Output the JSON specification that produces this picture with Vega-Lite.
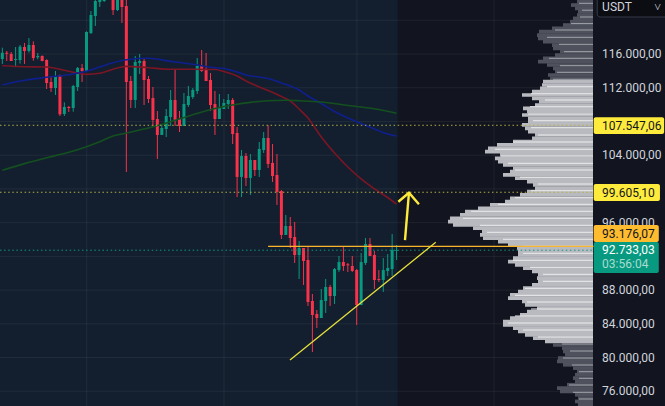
{
  "$schema": "https://vega.github.io/schema/vega-lite/v6.json",
  "width": 665,
  "height": 406,
  "padding": 0,
  "autosize": "none",
  "background": "#12151f",
  "config": {"view": {"stroke": null}, "font": "Roboto", "scale": {"continuousPadding": 0}},
  "datasets": {
    "regions": [
      {"t": -0.53, "t2": 89.25}
    ],
    "gridH": [
      {"t": -0.53, "t2": 133.3, "p": 76000}, {"t": -0.53, "t2": 133.3, "p": 80000}, {"t": -0.53, "t2": 133.3, "p": 84000},
      {"t": -0.53, "t2": 133.3, "p": 88000}, {"t": -0.53, "t2": 133.3, "p": 92000}, {"t": -0.53, "t2": 133.3, "p": 96000},
      {"t": -0.53, "t2": 133.3, "p": 100000}, {"t": -0.53, "t2": 133.3, "p": 104000}, {"t": -0.53, "t2": 133.3, "p": 108000},
      {"t": -0.53, "t2": 133.3, "p": 112000}, {"t": -0.53, "t2": 133.3, "p": 116000}, {"t": -0.53, "t2": 133.3, "p": 120000}
    ],
    "gridV": [{"t": 19.05}, {"t": 50.04}, {"t": 80.06}, {"t": 111}],
    "tickLabels": [
      {"t": 135.4, "p": 76000, "label": "76.000,00"}, {"t": 135.4, "p": 80000, "label": "80.000,00"},
      {"t": 135.4, "p": 84000, "label": "84.000,00"}, {"t": 135.4, "p": 88000, "label": "88.000,00"},
      {"t": 135.4, "p": 96000, "label": "96.000,00"}, {"t": 135.4, "p": 104000, "label": "104.000,00"},
      {"t": 135.4, "p": 112000, "label": "112.000,00"}, {"t": 135.4, "p": 116000, "label": "116.000,00"}
    ],
    "candles": [
      {"t":0,"o":115410,"h":116750,"l":114820,"c":116160,"dir":"up"},
      {"t":1,"o":116160,"h":116360,"l":115170,"c":116040,"dir":"down"},
      {"t":2,"o":116000,"h":116240,"l":115170,"c":115170,"dir":"down"},
      {"t":3,"o":115290,"h":116830,"l":114500,"c":115410,"dir":"up"},
      {"t":4,"o":115290,"h":117070,"l":114860,"c":116870,"dir":"up"},
      {"t":5,"o":116830,"h":117310,"l":114820,"c":116360,"dir":"down"},
      {"t":6,"o":116360,"h":117900,"l":116160,"c":117070,"dir":"up"},
      {"t":7,"o":117070,"h":117500,"l":115210,"c":115530,"dir":"down"},
      {"t":8,"o":115610,"h":116120,"l":115370,"c":115770,"dir":"up"},
      {"t":9,"o":115770,"h":115840,"l":115130,"c":115170,"dir":"down"},
      {"t":10,"o":115290,"h":115370,"l":111850,"c":112560,"dir":"down"},
      {"t":11,"o":112680,"h":113390,"l":111500,"c":111970,"dir":"down"},
      {"t":12,"o":111970,"h":113990,"l":111140,"c":113390,"dir":"up"},
      {"t":13,"o":113470,"h":113550,"l":108650,"c":108850,"dir":"down"},
      {"t":14,"o":108890,"h":110270,"l":108650,"c":109720,"dir":"up"},
      {"t":15,"o":109720,"h":109840,"l":109120,"c":109600,"dir":"down"},
      {"t":16,"o":109600,"h":112330,"l":109160,"c":112210,"dir":"up"},
      {"t":17,"o":112090,"h":114460,"l":111610,"c":114340,"dir":"up"},
      {"t":18,"o":114340,"h":114820,"l":112680,"c":113990,"dir":"down"},
      {"t":19,"o":113990,"h":118690,"l":113990,"c":118610,"dir":"up"},
      {"t":20,"o":118490,"h":121100,"l":118370,"c":120630,"dir":"up"},
      {"t":21,"o":120510,"h":122700,"l":119320,"c":122290,"dir":"up"},
      {"t":22,"o":122170,"h":123200,"l":121580,"c":122800,"dir":"up"},
      {"t":23,"o":122290,"h":123800,"l":122170,"c":123400,"dir":"up"},
      {"t":24,"o":125000,"h":125300,"l":123500,"c":124000,"dir":"down"},
      {"t":25,"o":124000,"h":124200,"l":120630,"c":121220,"dir":"down"},
      {"t":26,"o":121220,"h":123300,"l":121100,"c":123000,"dir":"up"},
      {"t":27,"o":123000,"h":123300,"l":119680,"c":121580,"dir":"down"},
      {"t":28,"o":121690,"h":122700,"l":102010,"c":112680,"dir":"down"},
      {"t":29,"o":112800,"h":113390,"l":109600,"c":110550,"dir":"down"},
      {"t":30,"o":110550,"h":115770,"l":109600,"c":115050,"dir":"up"},
      {"t":31,"o":114930,"h":116000,"l":113630,"c":115170,"dir":"up"},
      {"t":32,"o":115170,"h":115410,"l":109950,"c":112920,"dir":"down"},
      {"t":33,"o":113040,"h":113390,"l":110190,"c":110670,"dir":"down"},
      {"t":34,"o":110780,"h":112090,"l":107460,"c":108180,"dir":"down"},
      {"t":35,"o":108290,"h":109240,"l":103550,"c":106400,"dir":"down"},
      {"t":36,"o":106400,"h":107580,"l":106400,"c":107230,"dir":"up"},
      {"t":37,"o":107110,"h":109480,"l":106160,"c":108650,"dir":"up"},
      {"t":38,"o":108530,"h":111730,"l":107460,"c":110550,"dir":"up"},
      {"t":39,"o":110550,"h":114100,"l":107460,"c":108180,"dir":"down"},
      {"t":40,"o":108290,"h":109240,"l":106750,"c":107460,"dir":"down"},
      {"t":41,"o":107460,"h":111380,"l":107460,"c":110070,"dir":"up"},
      {"t":42,"o":109950,"h":112210,"l":109720,"c":111020,"dir":"up"},
      {"t":43,"o":110900,"h":111970,"l":110670,"c":111730,"dir":"up"},
      {"t":44,"o":111610,"h":115530,"l":111260,"c":114580,"dir":"up"},
      {"t":45,"o":114580,"h":116480,"l":113870,"c":113990,"dir":"down"},
      {"t":46,"o":114100,"h":116120,"l":112800,"c":112800,"dir":"down"},
      {"t":47,"o":112920,"h":113750,"l":109240,"c":109950,"dir":"down"},
      {"t":48,"o":110070,"h":111610,"l":106400,"c":108290,"dir":"down"},
      {"t":49,"o":108290,"h":111260,"l":108290,"c":109600,"dir":"up"},
      {"t":50,"o":109480,"h":110670,"l":109480,"c":110190,"dir":"up"},
      {"t":51,"o":110070,"h":111260,"l":109480,"c":110550,"dir":"up"},
      {"t":52,"o":110550,"h":110780,"l":105330,"c":106510,"dir":"down"},
      {"t":53,"o":106630,"h":107340,"l":99040,"c":101420,"dir":"down"},
      {"t":54,"o":101420,"h":104620,"l":99040,"c":103910,"dir":"up"},
      {"t":55,"o":103910,"h":104260,"l":100350,"c":101300,"dir":"down"},
      {"t":56,"o":101300,"h":104140,"l":99280,"c":103430,"dir":"up"},
      {"t":57,"o":103430,"h":103430,"l":101530,"c":102250,"dir":"down"},
      {"t":58,"o":102250,"h":105570,"l":101420,"c":104740,"dir":"up"},
      {"t":59,"o":104620,"h":106750,"l":104260,"c":106040,"dir":"up"},
      {"t":60,"o":106040,"h":107580,"l":102480,"c":102960,"dir":"down"},
      {"t":61,"o":103080,"h":105330,"l":100820,"c":101530,"dir":"down"},
      {"t":62,"o":101650,"h":104140,"l":98090,"c":99640,"dir":"down"},
      {"t":63,"o":99750,"h":99870,"l":94060,"c":94540,"dir":"down"},
      {"t":64,"o":94540,"h":96910,"l":94540,"c":95600,"dir":"up"},
      {"t":65,"o":95600,"h":96670,"l":92990,"c":94180,"dir":"down"},
      {"t":66,"o":94300,"h":96080,"l":91220,"c":92160,"dir":"down"},
      {"t":67,"o":92160,"h":93820,"l":89320,"c":92990,"dir":"up"},
      {"t":68,"o":92990,"h":92990,"l":88610,"c":91450,"dir":"down"},
      {"t":69,"o":91570,"h":93230,"l":86120,"c":86590,"dir":"down"},
      {"t":70,"o":86710,"h":87540,"l":80660,"c":85050,"dir":"down"},
      {"t":71,"o":85170,"h":85640,"l":83510,"c":84690,"dir":"down"},
      {"t":72,"o":84690,"h":88130,"l":84690,"c":86830,"dir":"up"},
      {"t":73,"o":86710,"h":89320,"l":85290,"c":88370,"dir":"up"},
      {"t":74,"o":88370,"h":88610,"l":86120,"c":87300,"dir":"down"},
      {"t":75,"o":87300,"h":90620,"l":86350,"c":90500,"dir":"up"},
      {"t":76,"o":90380,"h":92050,"l":90150,"c":91330,"dir":"up"},
      {"t":77,"o":91330,"h":93110,"l":90270,"c":90860,"dir":"down"},
      {"t":78,"o":91060,"h":91220,"l":90150,"c":90940,"dir":"down"},
      {"t":79,"o":90860,"h":92050,"l":90150,"c":90270,"dir":"down"},
      {"t":80,"o":90380,"h":90500,"l":83860,"c":86230,"dir":"down"},
      {"t":81,"o":86230,"h":92400,"l":86230,"c":91330,"dir":"up"},
      {"t":82,"o":91220,"h":94180,"l":90980,"c":93470,"dir":"up"},
      {"t":83,"o":93470,"h":94180,"l":92050,"c":92050,"dir":"down"},
      {"t":84,"o":92160,"h":92640,"l":88130,"c":89200,"dir":"down"},
      {"t":85,"o":89320,"h":90380,"l":88960,"c":89200,"dir":"down"},
      {"t":86,"o":89200,"h":91810,"l":87780,"c":90380,"dir":"up"},
      {"t":87,"o":90270,"h":92280,"l":89670,"c":90620,"dir":"up"},
      {"t":88,"o":90500,"h":94650,"l":89670,"c":92760,"dir":"up"},
      {"t":89,"o":92640,"h":93350,"l":91570,"c":92733,"dir":"up"}
    ],
    "averages": [
      {"ma":"short","t":0,"p":114614},{"ma":"short","t":5,"p":114495},{"ma":"short","t":10,"p":114460},{"ma":"short","t":15,"p":113950},
      {"ma":"short","t":19,"p":113590},{"ma":"short","t":22,"p":113710},{"ma":"short","t":25,"p":114190},{"ma":"short","t":28,"p":114540},
      {"ma":"short","t":33,"p":114380},{"ma":"short","t":38,"p":114190},{"ma":"short","t":43,"p":114190},{"ma":"short","t":48,"p":114160},
      {"ma":"short","t":50,"p":113930},{"ma":"short","t":53,"p":113390},{"ma":"short","t":55,"p":112800},{"ma":"short","t":58,"p":112090},
      {"ma":"short","t":60,"p":111670},{"ma":"short","t":63,"p":110960},{"ma":"short","t":65,"p":110430},{"ma":"short","t":67,"p":109480},
      {"ma":"short","t":69,"p":108410},{"ma":"short","t":72,"p":106160},{"ma":"short","t":75,"p":104260},{"ma":"short","t":78,"p":102600},
      {"ma":"short","t":81,"p":101180},{"ma":"short","t":84,"p":100000},{"ma":"short","t":87,"p":98980},{"ma":"short","t":89,"p":98210},
      {"ma":"mid","t":0,"p":112325},{"ma":"mid","t":5,"p":112880},{"ma":"mid","t":10,"p":113240},{"ma":"mid","t":15,"p":113550},
      {"ma":"mid","t":19,"p":113950},{"ma":"mid","t":22,"p":114460},{"ma":"mid","t":25,"p":114970},{"ma":"mid","t":28,"p":115320},
      {"ma":"mid","t":33,"p":115490},{"ma":"mid","t":38,"p":115130},{"ma":"mid","t":43,"p":114780},{"ma":"mid","t":48,"p":114380},
      {"ma":"mid","t":50,"p":114280},{"ma":"mid","t":53,"p":113870},{"ma":"mid","t":55,"p":113510},{"ma":"mid","t":58,"p":113270},
      {"ma":"mid","t":60,"p":113100},{"ma":"mid","t":63,"p":112560},{"ma":"mid","t":65,"p":112210},{"ma":"mid","t":67,"p":111730},
      {"ma":"mid","t":69,"p":111020},{"ma":"mid","t":72,"p":110130},{"ma":"mid","t":75,"p":109180},{"ma":"mid","t":78,"p":108410},
      {"ma":"mid","t":81,"p":107760},{"ma":"mid","t":84,"p":107110},{"ma":"mid","t":87,"p":106510},{"ma":"mid","t":89,"p":106280},
      {"ma":"long","t":0,"p":102210},{"ma":"long","t":5,"p":103000},{"ma":"long","t":10,"p":103700},{"ma":"long","t":15,"p":104340},
      {"ma":"long","t":19,"p":105010},{"ma":"long","t":22,"p":105600},{"ma":"long","t":25,"p":106280},{"ma":"long","t":28,"p":106630},
      {"ma":"long","t":33,"p":107230},{"ma":"long","t":38,"p":107970},{"ma":"long","t":43,"p":108800},{"ma":"long","t":48,"p":109540},
      {"ma":"long","t":52,"p":109950},{"ma":"long","t":56,"p":110270},{"ma":"long","t":60,"p":110460},{"ma":"long","t":64,"p":110510},
      {"ma":"long","t":67,"p":110460},{"ma":"long","t":71,"p":110340},{"ma":"long","t":74,"p":110190},{"ma":"long","t":78,"p":109890},
      {"ma":"long","t":81,"p":109720},{"ma":"long","t":85,"p":109420},{"ma":"long","t":89,"p":108970}
    ],
    "profile": [
      {"p":122200,"vol":16,"zone":"outer"},{"p":121805,"vol":22,"zone":"outer"},{"p":121410,"vol":18,"zone":"outer"},{"p":121015,"vol":15,"zone":"outer"},
      {"p":120620,"vol":16,"zone":"outer"},{"p":120225,"vol":20,"zone":"outer"},{"p":119830,"vol":23,"zone":"outer"},{"p":119435,"vol":30,"zone":"outer"},
      {"p":119040,"vol":41,"zone":"outer"},{"p":118645,"vol":54,"zone":"outer"},{"p":118250,"vol":56,"zone":"outer"},{"p":117855,"vol":55,"zone":"outer"},
      {"p":117460,"vol":50,"zone":"outer"},{"p":117065,"vol":41,"zone":"outer"},{"p":116670,"vol":40,"zone":"outer"},{"p":116275,"vol":33,"zone":"outer"},
      {"p":115880,"vol":38,"zone":"outer"},{"p":115485,"vol":50,"zone":"outer"},{"p":115090,"vol":55,"zone":"outer"},{"p":114695,"vol":46,"zone":"outer"},
      {"p":114300,"vol":40,"zone":"outer"},{"p":113905,"vol":38,"zone":"outer"},{"p":113510,"vol":45,"zone":"outer"},{"p":113115,"vol":43,"zone":"outer"},
      {"p":112720,"vol":50,"zone":"value"},{"p":112325,"vol":51,"zone":"value"},{"p":111930,"vol":53,"zone":"value"},{"p":111535,"vol":61,"zone":"value"},
      {"p":111140,"vol":71,"zone":"value"},{"p":110745,"vol":61,"zone":"value"},{"p":110350,"vol":54,"zone":"value"},{"p":109955,"vol":58,"zone":"value"},
      {"p":109560,"vol":70,"zone":"value"},{"p":109165,"vol":66,"zone":"value"},{"p":108770,"vol":71,"zone":"value"},{"p":108375,"vol":65,"zone":"value"},
      {"p":107980,"vol":65,"zone":"value"},{"p":107585,"vol":71,"zone":"value"},{"p":107190,"vol":68,"zone":"value"},{"p":106795,"vol":65,"zone":"value"},
      {"p":106400,"vol":58,"zone":"value"},{"p":106005,"vol":61,"zone":"value"},{"p":105610,"vol":80,"zone":"value"},{"p":105215,"vol":96,"zone":"value"},
      {"p":104820,"vol":105,"zone":"value"},{"p":104425,"vol":108,"zone":"value"},{"p":104030,"vol":93,"zone":"value"},{"p":103635,"vol":98,"zone":"value"},
      {"p":103240,"vol":95,"zone":"value"},{"p":102845,"vol":90,"zone":"value"},{"p":102450,"vol":80,"zone":"value"},{"p":102055,"vol":83,"zone":"value"},
      {"p":101660,"vol":90,"zone":"value"},{"p":101265,"vol":78,"zone":"value"},{"p":100870,"vol":66,"zone":"value"},{"p":100475,"vol":60,"zone":"value"},
      {"p":100080,"vol":58,"zone":"value"},{"p":99685,"vol":66,"zone":"value"},{"p":99290,"vol":73,"zone":"value"},{"p":98895,"vol":83,"zone":"value"},
      {"p":98500,"vol":88,"zone":"value"},{"p":98105,"vol":103,"zone":"value"},{"p":97710,"vol":115,"zone":"value"},{"p":97315,"vol":128,"zone":"value"},
      {"p":96920,"vol":133,"zone":"value"},{"p":96525,"vol":143,"zone":"value"},{"p":96130,"vol":145,"zone":"value"},{"p":95735,"vol":140,"zone":"value"},
      {"p":95340,"vol":120,"zone":"value"},{"p":94945,"vol":111,"zone":"value"},{"p":94550,"vol":113,"zone":"value"},{"p":94155,"vol":110,"zone":"value"},
      {"p":93760,"vol":95,"zone":"value"},{"p":93365,"vol":85,"zone":"value"},{"p":92970,"vol":76,"zone":"value"},{"p":92575,"vol":75,"zone":"value"},
      {"p":92180,"vol":75,"zone":"value"},{"p":91785,"vol":80,"zone":"value"},{"p":91390,"vol":85,"zone":"value"},{"p":90995,"vol":78,"zone":"value"},
      {"p":90600,"vol":70,"zone":"value"},{"p":90205,"vol":61,"zone":"value"},{"p":89810,"vol":55,"zone":"value"},{"p":89415,"vol":56,"zone":"value"},
      {"p":89020,"vol":55,"zone":"value"},{"p":88625,"vol":61,"zone":"value"},{"p":88230,"vol":70,"zone":"value"},{"p":87835,"vol":75,"zone":"value"},
      {"p":87440,"vol":83,"zone":"value"},{"p":87045,"vol":85,"zone":"value"},{"p":86650,"vol":71,"zone":"value"},{"p":86255,"vol":68,"zone":"value"},
      {"p":85860,"vol":56,"zone":"value"},{"p":85465,"vol":66,"zone":"value"},{"p":85070,"vol":73,"zone":"value"},{"p":84675,"vol":83,"zone":"value"},
      {"p":84280,"vol":90,"zone":"value"},{"p":83885,"vol":90,"zone":"value"},{"p":83490,"vol":80,"zone":"value"},{"p":83095,"vol":75,"zone":"value"},
      {"p":82700,"vol":68,"zone":"value"},{"p":82305,"vol":60,"zone":"value"},{"p":81910,"vol":48,"zone":"value"},{"p":81515,"vol":40,"zone":"outer"},
      {"p":81120,"vol":31,"zone":"outer"},{"p":80725,"vol":30,"zone":"outer"},{"p":80330,"vol":28,"zone":"outer"},{"p":79935,"vol":35,"zone":"outer"},
      {"p":79540,"vol":36,"zone":"outer"},{"p":79145,"vol":30,"zone":"outer"},{"p":78750,"vol":20,"zone":"outer"},{"p":78355,"vol":16,"zone":"outer"},
      {"p":77960,"vol":18,"zone":"outer"},{"p":77565,"vol":20,"zone":"outer"},{"p":77170,"vol":18,"zone":"outer"},{"p":76775,"vol":26,"zone":"outer"},
      {"p":76380,"vol":36,"zone":"outer"},{"p":75985,"vol":33,"zone":"outer"},{"p":75590,"vol":18,"zone":"outer"},{"p":75195,"vol":15,"zone":"outer"},
      {"p":74800,"vol":18,"zone":"outer"},{"p":74405,"vol":15,"zone":"outer"}
    ],
    "profileLines": [
      {"p":122015,"vol":14,"zone":"outer"},{"p":121196,"vol":11,"zone":"outer"},{"p":120390,"vol":13,"zone":"outer"},{"p":119607,"vol":22,"zone":"outer"},
      {"p":118848,"vol":38,"zone":"outer"},{"p":117982,"vol":46,"zone":"outer"},{"p":117152,"vol":34,"zone":"outer"},{"p":116275,"vol":29,"zone":"outer"},
      {"p":115492,"vol":44,"zone":"outer"},{"p":114614,"vol":33,"zone":"outer"},{"p":113831,"vol":36,"zone":"outer"},{"p":113001,"vol":40,"zone":"outer"},
      {"p":112124,"vol":46,"zone":"value"},{"p":111293,"vol":62,"zone":"value"},{"p":110546,"vol":48,"zone":"value"},{"p":109752,"vol":63,"zone":"value"},
      {"p":108886,"vol":65,"zone":"value"},{"p":108091,"vol":60,"zone":"value"},{"p":107261,"vol":62,"zone":"value"},{"p":106395,"vol":55,"zone":"value"},
      {"p":105565,"vol":80,"zone":"value"},{"p":104700,"vol":98,"zone":"value"},{"p":103905,"vol":92,"zone":"value"},{"p":103039,"vol":85,"zone":"value"},
      {"p":102244,"vol":78,"zone":"value"},{"p":101378,"vol":73,"zone":"value"},{"p":100584,"vol":55,"zone":"value"},{"p":99789,"vol":62,"zone":"value"},
      {"p":98959,"vol":78,"zone":"value"},{"p":98176,"vol":95,"zone":"value"},{"p":97346,"vol":122,"zone":"value"},{"p":96516,"vol":130,"zone":"value"},
      {"p":95686,"vol":113,"zone":"value"},{"p":94855,"vol":106,"zone":"value"},{"p":94025,"vol":90,"zone":"value"},{"p":93195,"vol":70,"zone":"value"},
      {"p":92365,"vol":70,"zone":"value"},{"p":91535,"vol":80,"zone":"value"},{"p":90704,"vol":63,"zone":"value"},{"p":89874,"vol":50,"zone":"value"},
      {"p":89044,"vol":50,"zone":"value"},{"p":88214,"vol":68,"zone":"value"},{"p":87383,"vol":78,"zone":"value"},{"p":86589,"vol":66,"zone":"value"},
      {"p":85759,"vol":62,"zone":"value"},{"p":84928,"vol":78,"zone":"value"},{"p":84098,"vol":85,"zone":"value"},{"p":83268,"vol":70,"zone":"value"},
      {"p":82438,"vol":55,"zone":"value"},{"p":81608,"vol":31,"zone":"outer"},{"p":80778,"vol":23,"zone":"outer"},{"p":79947,"vol":30,"zone":"outer"},
      {"p":79117,"vol":21,"zone":"outer"},{"p":78323,"vol":14,"zone":"outer"},{"p":77540,"vol":14,"zone":"outer"},{"p":76745,"vol":24,"zone":"outer"},
      {"p":75880,"vol":20,"zone":"outer"},{"p":75085,"vol":14,"zone":"outer"}
    ],
    "levels": [
      {"t": -0.53, "t2": 133.5, "p": 107547.06, "kind": "level"},
      {"t": -0.53, "t2": 133.5, "p": 99605.10, "kind": "level"},
      {"t": -0.53, "t2": 133.5, "p": 92733.03, "kind": "last"}
    ],
    "resistance": [{"t": 60, "t2": 133.5, "p": 93176.07}],
    "trend": [{"t": 64.94, "p": 79710}, {"t": 97.85, "p": 93670}],
    "arrow": [
      {"part": "shaft", "t": 90.9, "p": 93940, "ord": 1},
      {"part": "shaft", "t": 91.8, "p": 99550, "ord": 2},
      {"part": "head", "t": 89.4, "p": 98480, "ord": 1},
      {"part": "head", "t": 91.8, "p": 99550, "ord": 2},
      {"part": "head", "t": 94.05, "p": 98180, "ord": 3}
    ],
    "tags": [
      {"t": 133.5, "t2": 149.4, "top": 108494, "bottom": 106514, "kind": "level"},
      {"t": 133.5, "t2": 148.46, "top": 100584, "bottom": 98570, "kind": "level"},
      {"t": 133.5, "t2": 148.2, "top": 95721, "bottom": 93705, "kind": "resistance"},
      {"t": 133.5, "t2": 148.2, "top": 93705, "bottom": 90028, "kind": "last"}
    ],
    "currency": [{"t": 134.3, "t2": 152, "top": 123000, "bottom": 120390}],
    "tagText": [
      {"t": 135.4, "p": 107522, "label": "107.547,06", "kind": "dark"},
      {"t": 135.4, "p": 99575, "label": "99.605,10", "kind": "dark"},
      {"t": 135.4, "p": 94712, "label": "93.176,07", "kind": "dark"},
      {"t": 135.4, "p": 92815, "label": "92.733,03", "kind": "light"},
      {"t": 135.4, "p": 91155, "label": "03:56:04", "kind": "soft"},
      {"t": 135.4, "p": 121560, "label": "USDT", "kind": "pale"},
      {"t": 147.2, "p": 121560, "label": "˅", "kind": "pale"}
    ]
  },
  "encoding": {
    "x": {"field": "t", "type": "quantitative", "axis": null, "scale": {"domain": [-0.526, 149.6]}},
    "y": {"field": "p", "type": "quantitative", "axis": null, "scale": {"domain": [74256, 122406]}}
  },
  "resolve": {"scale": {"x": "independent", "color": "independent"}},
  "layer": [
    {
      "data": {"name": "regions"},
      "mark": {"type": "rect", "color": "#131f2e"},
      "encoding": {"x2": {"field": "t2"}, "y": {"value": 0}, "y2": {"value": 406}}
    },
    {
      "data": {"name": "gridV"},
      "mark": {"type": "rule", "color": "#ffffff", "opacity": 0.06, "strokeWidth": 1},
      "encoding": {"y": {"value": 0}, "y2": {"value": 406}}
    },
    {
      "data": {"name": "gridH"},
      "mark": {"type": "rule", "color": "#ffffff", "opacity": 0.06, "strokeWidth": 1},
      "encoding": {"x2": {"field": "t2"}}
    },
    {
      "data": {"name": "tickLabels"},
      "mark": {"type": "text", "align": "left", "baseline": "middle", "font": "Roboto", "fontSize": 12, "color": "#d1d4dc"},
      "encoding": {"text": {"field": "label", "type": "nominal"}}
    },
    {
      "data": {"name": "profile"},
      "mark": {"type": "bar", "orient": "horizontal", "size": 3.7},
      "encoding": {
        "x": {"field": "vol", "type": "quantitative", "axis": null, "scale": {"domain": [0, 593], "range": [593, 0]}},
        "color": {"field": "zone", "type": "nominal", "legend": null, "scale": {"domain": ["value", "outer"], "range": ["#b9bac0", "#4f525d"]}}
      }
    },
    {
      "data": {"name": "profileLines"},
      "mark": {"type": "rule", "strokeWidth": 1},
      "encoding": {
        "x": {"field": "vol", "type": "quantitative", "axis": null, "scale": {"domain": [0, 593], "range": [593, 0]}},
        "x2": {"datum": 0},
        "color": {"field": "zone", "type": "nominal", "legend": null, "scale": {"domain": ["value", "outer"], "range": ["#eceded", "#a3a5ad"]}}
      }
    },
    {
      "data": {"name": "candles"},
      "mark": {"type": "rule", "strokeWidth": 1},
      "encoding": {
        "y": {"field": "l", "type": "quantitative", "axis": null, "scale": {"domain": [74256, 122406]}},
        "y2": {"field": "h"},
        "color": {"field": "dir", "type": "nominal", "legend": null, "scale": {"domain": ["up", "down"], "range": ["#089981", "#f7324a"]}}
      }
    },
    {
      "data": {"name": "candles"},
      "mark": {"type": "bar", "orient": "vertical", "size": 3},
      "encoding": {
        "y": {"field": "o", "type": "quantitative", "axis": null, "scale": {"domain": [74256, 122406]}},
        "y2": {"field": "c"},
        "color": {"field": "dir", "type": "nominal", "legend": null, "scale": {"domain": ["up", "down"], "range": ["#089981", "#f7324a"]}}
      }
    },
    {
      "data": {"name": "averages"},
      "mark": {"type": "line", "strokeWidth": 1.6, "interpolate": "monotone"},
      "encoding": {
        "color": {"field": "ma", "type": "nominal", "legend": null, "scale": {"domain": ["short", "mid", "long"], "range": ["#7c1524", "#0f1f8e", "#14501f"]}}
      }
    },
    {
      "data": {"name": "levels"},
      "mark": {"type": "rule", "strokeWidth": 1, "strokeDash": [1.5, 2.6]},
      "encoding": {
        "x2": {"field": "t2"},
        "color": {"field": "kind", "type": "nominal", "legend": null, "scale": {"domain": ["level", "last"], "range": ["#b3ae45", "#089981"]}}
      }
    },
    {
      "data": {"name": "resistance"},
      "mark": {"type": "rule", "color": "#f9b62c", "strokeWidth": 1.3},
      "encoding": {"x2": {"field": "t2"}}
    },
    {
      "data": {"name": "trend"},
      "mark": {"type": "line", "color": "#e6df3c", "strokeWidth": 1.3}
    },
    {
      "data": {"name": "arrow"},
      "mark": {"type": "line", "color": "#ffeb3b", "strokeWidth": 2.4},
      "encoding": {
        "detail": {"field": "part"},
        "order": {"field": "ord"}
      }
    },
    {
      "data": {"name": "tags"},
      "mark": {"type": "rect", "cornerRadius": 2},
      "encoding": {
        "x2": {"field": "t2"},
        "y": {"field": "top", "type": "quantitative", "axis": null, "scale": {"domain": [74256, 122406]}},
        "y2": {"field": "bottom"},
        "color": {"field": "kind", "type": "nominal", "legend": null, "scale": {"domain": ["level", "resistance", "last"], "range": ["#ffeb3b", "#ffbc2e", "#089981"]}}
      }
    },
    {
      "data": {"name": "currency"},
      "mark": {"type": "rect", "color": "#0c0d12", "stroke": "#363a45", "strokeWidth": 1, "cornerRadius": 3},
      "encoding": {
        "x2": {"field": "t2"},
        "y": {"field": "top", "type": "quantitative", "axis": null, "scale": {"domain": [74256, 122406]}},
        "y2": {"field": "bottom"}
      }
    },
    {
      "data": {"name": "tagText"},
      "mark": {"type": "text", "align": "left", "baseline": "middle", "font": "Roboto", "fontSize": 12},
      "encoding": {
        "text": {"field": "label", "type": "nominal"},
        "color": {"field": "kind", "type": "nominal", "legend": null, "scale": {"domain": ["dark", "light", "soft", "pale"], "range": ["#131722", "#ffffff", "#a8dcd0", "#d1d4dc"]}}
      }
    }
  ]
}
